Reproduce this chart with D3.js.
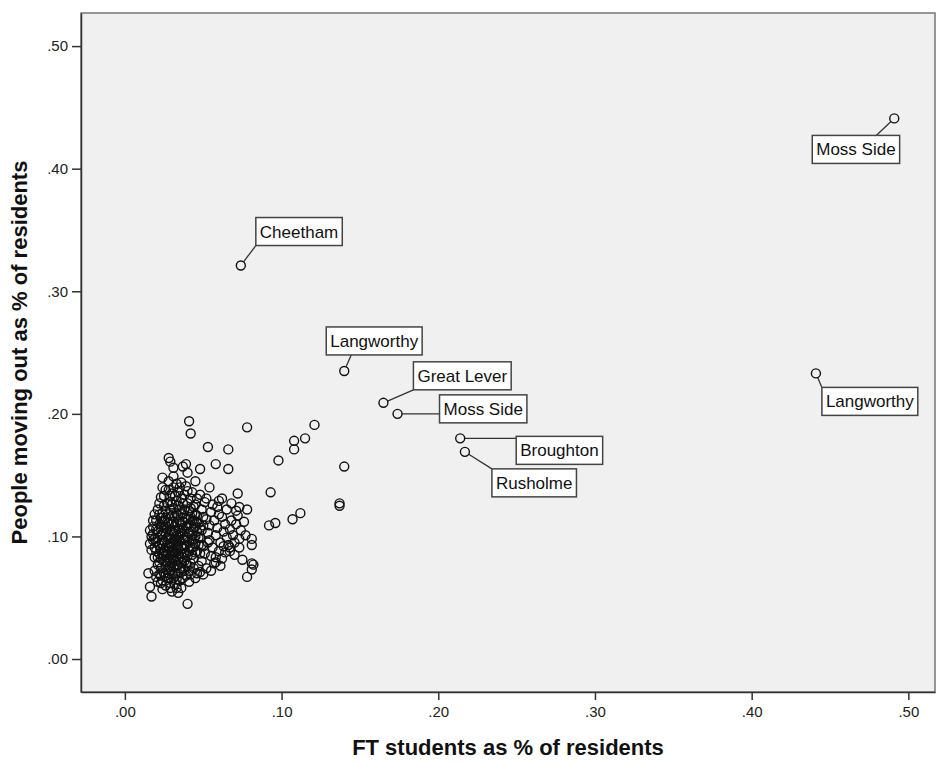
<!DOCTYPE html>
<html>
<head>
<meta charset="utf-8">
<script src="https://d3js.org/d3.v7.min.js"></script>
<style>
  body { margin: 0; background: #fff; }
  text { font-family: "Liberation Sans", Arial, sans-serif; }
</style>
</head>
<body>
<svg id="graph" width="938" height="763"></svg>
<script>
var w = 938;
var h = 763;

// tick values for both axes
var xTicks = [0, 0.1, 0.2, 0.3, 0.4, 0.5];
var yTicks = [0, 0.1, 0.2, 0.3, 0.4, 0.5];

// labelled wards
var labelNames = ["Moss Side", "Langworthy", "Cheetham", "Langworthy", "Great Lever", "Moss Side", "Broughton", "Rusholme"];
var labelX = [0.491, 0.441, 0.074, 0.140, 0.165, 0.174, 0.214, 0.217];
var labelY = [0.441, 0.233, 0.321, 0.235, 0.209, 0.200, 0.180, 0.169];

// all other wards [FT students %, moving out %]
var wards = [
  [0.041,0.194],[0.042,0.184],[0.053,0.173],[0.066,0.171],[0.078,0.189],[0.098,0.162],[0.121,0.191],[0.115,0.180],
  [0.108,0.178],[0.108,0.171],[0.140,0.157],[0.093,0.136],[0.137,0.127],[0.137,0.125],[0.112,0.119],[0.107,0.114],
  [0.096,0.111],[0.092,0.109],[0.081,0.093],[0.082,0.077],[0.081,0.073],[0.078,0.067],[0.040,0.045],
  [0.028,0.164],[0.029,0.161],[0.039,0.159],[0.048,0.155],[0.058,0.159],[0.066,0.155],[0.024,0.148],[0.031,0.149],
  [0.045,0.145],[0.054,0.140],[0.072,0.135],[0.078,0.122],[0.073,0.124],[0.062,0.131],[0.081,0.098],[0.077,0.101],
  [0.073,0.091],[0.081,0.078],[0.075,0.081],[0.067,0.091],[0.058,0.079],[0.048,0.071],[0.034,0.054],[0.016,0.059],
  [0.017,0.051],[0.015,0.070],[0.029,0.058],[0.023,0.062],[0.027,0.066],[0.031,0.156],[0.037,0.157],[0.040,0.152],
  [0.018,0.102],[0.020,0.096],[0.017,0.089],[0.019,0.083],[0.021,0.077],[0.016,0.094],[0.018,0.108],[0.020,0.113],
  [0.022,0.118],[0.019,0.072],[0.023,0.101],[0.024,0.094],[0.025,0.088],[0.023,0.082],[0.026,0.076],[0.022,0.069],
  [0.024,0.064],[0.026,0.060],[0.025,0.107],[0.024,0.112],[0.026,0.121],[0.027,0.127],[0.025,0.133],[0.028,0.138],
  [0.027,0.099],[0.028,0.091],[0.029,0.085],[0.027,0.079],[0.029,0.072],[0.028,0.066],[0.030,0.104],[0.031,0.097],
  [0.030,0.092],[0.032,0.087],[0.031,0.081],[0.030,0.110],[0.032,0.116],[0.031,0.123],[0.033,0.129],[0.030,0.135],
  [0.033,0.100],[0.034,0.094],[0.033,0.089],[0.035,0.083],[0.034,0.077],[0.032,0.070],[0.035,0.064],[0.033,0.058],
  [0.034,0.106],[0.035,0.112],[0.036,0.119],[0.034,0.125],[0.036,0.131],[0.035,0.140],[0.037,0.098],[0.038,0.092],
  [0.036,0.086],[0.038,0.080],[0.037,0.074],[0.039,0.068],[0.038,0.104],[0.040,0.109],[0.039,0.115],[0.041,0.121],
  [0.040,0.127],[0.038,0.134],[0.041,0.096],[0.042,0.090],[0.040,0.084],[0.042,0.078],[0.041,0.072],[0.043,0.101],
  [0.044,0.107],[0.043,0.113],[0.045,0.118],[0.044,0.124],[0.046,0.131],[0.045,0.094],[0.046,0.088],[0.044,0.082],
  [0.047,0.076],[0.046,0.070],[0.048,0.099],[0.049,0.105],[0.047,0.111],[0.050,0.116],[0.049,0.122],[0.051,0.128],
  [0.050,0.092],[0.051,0.086],[0.049,0.080],[0.052,0.074],[0.053,0.103],[0.054,0.109],[0.052,0.114],[0.055,0.120],
  [0.054,0.097],[0.056,0.091],[0.055,0.084],[0.057,0.078],[0.058,0.101],[0.059,0.107],[0.057,0.113],[0.060,0.118],
  [0.059,0.124],[0.061,0.095],[0.060,0.088],[0.062,0.082],[0.063,0.104],[0.064,0.110],[0.062,0.116],[0.065,0.099],
  [0.066,0.093],[0.064,0.087],[0.067,0.106],[0.068,0.113],[0.069,0.101],[0.070,0.095],[0.071,0.110],[0.072,0.117],
  [0.021,0.099],[0.026,0.103],[0.029,0.098],[0.031,0.094],[0.033,0.096],[0.035,0.101],[0.027,0.093],[0.029,0.105],
  [0.032,0.108],[0.036,0.103],[0.023,0.090],[0.025,0.084],[0.028,0.081],[0.030,0.078],[0.033,0.076],[0.036,0.079],
  [0.039,0.087],[0.037,0.090],[0.034,0.091],[0.031,0.088],[0.024,0.097],[0.026,0.115],[0.028,0.111],[0.030,0.117],
  [0.033,0.119],[0.037,0.112],[0.039,0.100],[0.041,0.103],[0.043,0.096],[0.045,0.100],[0.020,0.106],[0.022,0.086],
  [0.027,0.073],[0.031,0.066],[0.034,0.070],[0.037,0.066],[0.040,0.076],[0.043,0.085],[0.047,0.093],[0.048,0.086],
  [0.019,0.091],[0.022,0.110],[0.025,0.125],[0.029,0.128],[0.032,0.133],[0.037,0.127],[0.042,0.116],[0.046,0.112],
  [0.050,0.109],[0.053,0.095],[0.024,0.140],[0.028,0.145],[0.033,0.143],[0.039,0.141],[0.043,0.136],[0.048,0.134],
  [0.052,0.131],[0.056,0.126],[0.060,0.129],[0.065,0.122],[0.026,0.068],[0.029,0.062],[0.032,0.061],[0.036,0.058],
  [0.030,0.055],[0.024,0.057],[0.041,0.063],[0.045,0.066],[0.050,0.069],[0.055,0.072],[0.058,0.083],[0.061,0.076],
  [0.063,0.092],[0.067,0.088],[0.070,0.085],[0.073,0.098],[0.074,0.105],[0.076,0.112],[0.071,0.121],[0.068,0.127],
  [0.019,0.098],[0.021,0.104],[0.022,0.093],[0.023,0.108],[0.024,0.102],[0.025,0.096],[0.026,0.091],[0.027,0.106],
  [0.028,0.101],[0.029,0.094],[0.030,0.089],[0.031,0.103],[0.032,0.098],[0.033,0.092],[0.034,0.086],[0.035,0.097],
  [0.036,0.092],[0.037,0.107],[0.038,0.097],[0.039,0.093],[0.040,0.099],[0.041,0.088],[0.042,0.104],[0.043,0.091],
  [0.044,0.098],[0.045,0.087],[0.046,0.104],[0.047,0.099],[0.048,0.107],[0.049,0.093],[0.020,0.088],[0.021,0.083],
  [0.022,0.079],[0.023,0.074],[0.024,0.086],[0.025,0.080],[0.026,0.085],[0.027,0.088],[0.028,0.075],[0.029,0.079],
  [0.030,0.083],[0.031,0.075],[0.032,0.080],[0.033,0.083],[0.034,0.081],[0.035,0.074],[0.036,0.071],[0.037,0.083],
  [0.038,0.086],[0.039,0.078],[0.018,0.097],[0.017,0.100],[0.016,0.105],[0.018,0.113],[0.019,0.118],[0.021,0.122],
  [0.023,0.115],[0.024,0.119],[0.025,0.113],[0.026,0.109],[0.027,0.112],[0.028,0.118],[0.029,0.122],[0.030,0.126],
  [0.031,0.112],[0.032,0.104],[0.033,0.112],[0.034,0.117],[0.035,0.122],[0.036,0.109],[0.037,0.118],[0.038,0.122],
  [0.039,0.108],[0.040,0.114],[0.041,0.110],[0.042,0.123],[0.043,0.119],[0.044,0.113],[0.045,0.108],[0.046,0.117],
  [0.022,0.127],[0.023,0.132],[0.026,0.138],[0.029,0.133],[0.031,0.140],[0.034,0.136],[0.036,0.144],[0.040,0.137],
  [0.042,0.131],[0.045,0.126],[0.020,0.067],[0.021,0.063],[0.023,0.068],[0.025,0.070],[0.028,0.070],[0.030,0.069],
  [0.033,0.065],[0.038,0.072],[0.042,0.069],[0.044,0.074]
];

var plotL = 81, plotR = 935, plotT = 13, plotB = 692;
var r = 4.5;

var x = d3.scaleLinear().domain([-0.028, 0.517]).range([plotL, plotR]);
var y = d3.scaleLinear().domain([-0.0269, 0.527]).range([plotB, plotT]);
var fmt = function(v) { return d3.format(".2f")(v).replace(/^0/, ""); };

var svg = d3.select("#graph");

// plot background
svg.append("rect")
  .attr("x", plotL).attr("y", plotT)
  .attr("width", plotR - plotL).attr("height", plotB - plotT)
  .style("fill", "#f0f0f0")
  .style("stroke", "#777")
  .style("stroke-width", 1.5);

var xAxis = svg.append("g")
  .attr("transform", "translate(0," + plotB + ")")
  .call(d3.axisBottom(x).tickValues(xTicks).tickFormat(fmt).tickSizeInner(8).tickSizeOuter(0).tickPadding(6));
var yAxis = svg.append("g")
  .attr("transform", "translate(" + plotL + ",0)")
  .call(d3.axisLeft(y).tickValues(yTicks).tickFormat(fmt).tickSizeInner(9).tickSizeOuter(0).tickPadding(4));

[xAxis, yAxis].forEach(function(g) {
  g.select(".domain").style("stroke", "#333").style("stroke-width", 1.5);
  g.selectAll(".tick line").style("stroke", "#333").style("stroke-width", 1.5);
  g.selectAll(".tick text")
    .style("font-family", "Liberation Sans, Arial, sans-serif")
    .style("font-size", "15px")
    .style("fill", "#222");
});

// the wards
svg.append("g").selectAll("circle")
  .data(wards)
  .enter()
  .append("circle")
  .attr("cx", function(d) { return x(d[0]); })
  .attr("cy", function(d) { return y(d[1]); })
  .attr("r", r)
  .style("fill", "none")
  .style("stroke", "#111")
  .style("stroke-width", 1.4);

// label boxes: offset of the box's top-left corner from the point, in px
var boxOffset = [[-82, 17], [6, 14], [15, -48], [-18, -44], [30, -41], [42, -19], [56, -2], [27, 17]];
// where the leader line meets the box (from its top-left), null = nearest point
var lineEnd = [[64, 0], null, null, [25, 28], null, null, null, null];

var labelled = labelNames.map(function(n, i) {
  return { name: n, px: x(labelX[i]), py: y(labelY[i]), off: boxOffset[i], end: lineEnd[i] };
});

var lab = svg.append("g").selectAll("g")
  .data(labelled)
  .enter()
  .append("g");

lab.each(function(d) {
  var g = d3.select(this);
  var bx = d.px + d.off[0], by = d.py + d.off[1];
  var t = g.append("text")
    .attr("x", bx + 4)
    .attr("y", by + 20)
    .style("font-size", "17px")
    .style("fill", "#111")
    .text(d.name);
  var bw = t.node().getComputedTextLength() + 8;
  var bh = 28;
  var ex, ey;
  if (d.end) {
    ex = bx + d.end[0]; ey = by + d.end[1];
  } else {
    ex = Math.max(bx, Math.min(d.px, bx + bw));
    ey = Math.max(by, Math.min(d.py, by + bh));
  }
  var ang = Math.atan2(ey - d.py, ex - d.px);
  g.insert("line", "text")
    .attr("x1", d.px + r * Math.cos(ang))
    .attr("y1", d.py + r * Math.sin(ang))
    .attr("x2", ex).attr("y2", ey)
    .style("stroke", "#333")
    .style("stroke-width", 1.3);
  g.insert("rect", "text")
    .attr("x", bx).attr("y", by)
    .attr("width", bw).attr("height", bh)
    .style("fill", "#fff")
    .style("stroke", "#444")
    .style("stroke-width", 1.5);
  g.append("circle")
    .attr("cx", d.px).attr("cy", d.py).attr("r", r)
    .style("fill", "none")
    .style("stroke", "#111")
    .style("stroke-width", 1.4);
});

// axis titles
svg.append("text")
  .attr("x", (plotL + plotR) / 2)
  .attr("y", 755)
  .attr("text-anchor", "middle")
  .style("font-size", "22px")
  .style("font-weight", "bold")
  .style("fill", "#111")
  .text("FT students as % of residents");

svg.append("text")
  .attr("transform", "translate(27," + ((plotT + plotB) / 2) + ") rotate(-90)")
  .attr("text-anchor", "middle")
  .style("font-size", "22px")
  .style("font-weight", "bold")
  .style("fill", "#111")
  .text("People moving out as % of residents");
</script>
</body>
</html>
